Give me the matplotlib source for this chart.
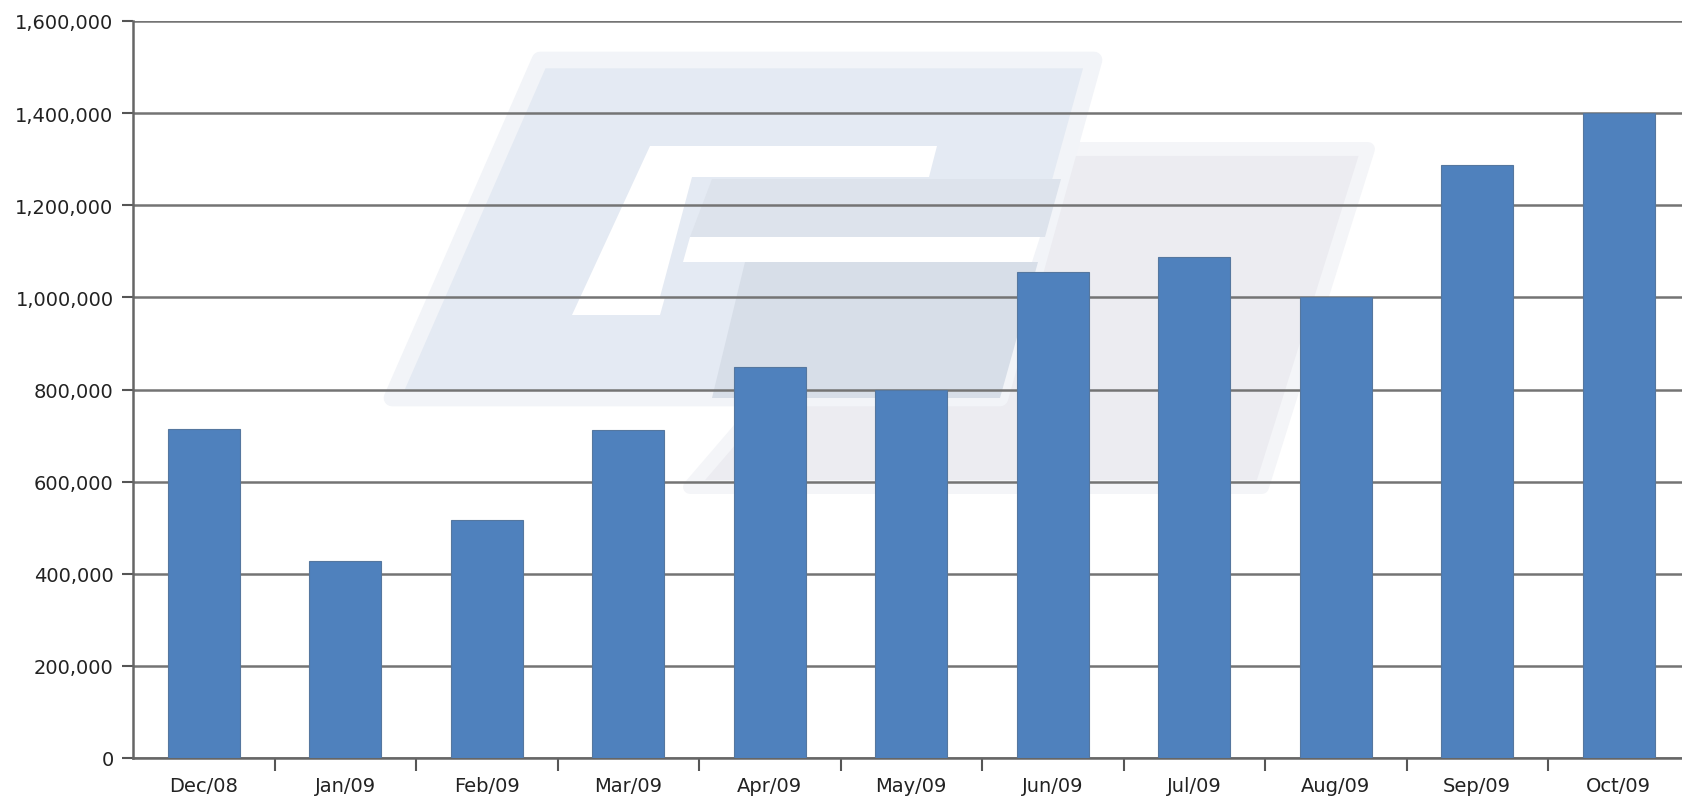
import matplotlib
matplotlib.use("Agg")
import matplotlib.pyplot as plt
from matplotlib.patches import Polygon
from matplotlib.ticker import FuncFormatter, FixedLocator

# monthly values
months = ["Dec/08", "Jan/09", "Feb/09", "Mar/09", "Apr/09", "May/09",
          "Jun/09", "Jul/09", "Aug/09", "Sep/09", "Oct/09"]
values = [714000, 428000, 516000, 712000, 849000, 800000,
          1056000, 1088000, 1000000, 1288000, 1400000]
y_ticks = [0, 200000, 400000, 600000, 800000, 1000000, 1200000, 1400000, 1600000]

W, H = 1682, 803
fig = plt.figure(figsize=(W / 100, H / 100), dpi=100)
ax = fig.add_axes([133 / W, 1 - 759 / H, 1 - 133 / W, (759 - 22) / H])

# faint logo watermark behind the axes (figure pixel coords, decoration only)
def px(points):
    return [(x / W, 1 - y / H) for x, y in points]

wm = [
    # right block
    (px([(980, 150), (1368, 150), (1262, 488), (690, 488)]), "#ececf1", "#f4f5f8", 10),
    # left block
    (px([(540, 61), (1094, 61), (1000, 399), (392, 399)]), "#e4eaf3", "#f2f4f8", 12),
    # where the two blocks overlap
    (px([(712, 180), (1061, 180), (1045, 238), (690, 238)]), "#dde3ec", "none", 0),
    (px([(745, 263), (1038, 263), (1000, 399), (712, 399)]), "#d7dee8", "none", 0),
    # white cut-outs of the letter
    (px([(650, 147), (937, 147), (929, 178), (692, 178), (660, 298),
         (665, 298), (660, 316), (572, 316)]), "white", "none", 0),
    (px([(690, 238), (1040, 238), (1032, 263), (683, 263)]), "white", "none", 0),
]
for i, (pts, fc, ec, lw) in enumerate(wm):
    fig.patches.append(Polygon(pts, closed=True, transform=fig.transFigure,
                               zorder=-10 + i, facecolor=fc, edgecolor=ec,
                               linewidth=lw, joinstyle="round"))
ax.patch.set_alpha(0)

x = range(len(months))
ax.bar(x, values, width=0.51, color="#4f81bd", edgecolor="#55779f",
       linewidth=0.8, zorder=3)

ax.set_xlim(-0.5, -0.5 + (W - 133) / 141.5)
ax.set_ylim(0, 1600000)

ax.set_yticks(y_ticks)
ax.yaxis.set_major_formatter(FuncFormatter(lambda v, _: f"{int(v):,}"))
ax.grid(axis="y", color="#747474", linewidth=1.8, zorder=1)
ax.set_axisbelow(True)

ax.set_xticks(list(x))
ax.set_xticklabels(months)
ax.xaxis.set_minor_locator(FixedLocator([i + 0.5 for i in range(len(months))]))
ax.tick_params(axis="x", which="major", length=0, pad=13, labelsize=14, colors="#222222")
ax.tick_params(axis="x", which="minor", length=9, width=1.5, color="#555555", direction="out")
ax.tick_params(axis="y", length=8, width=1.5, color="#555555", direction="out",
               pad=6, labelsize=14, labelcolor="#222222")

for side in ("top", "right"):
    ax.spines[side].set_visible(False)
for side in ("left", "bottom"):
    ax.spines[side].set_color("#666666")
    ax.spines[side].set_linewidth(1.8)

fig.savefig("out.png", dpi=100)
